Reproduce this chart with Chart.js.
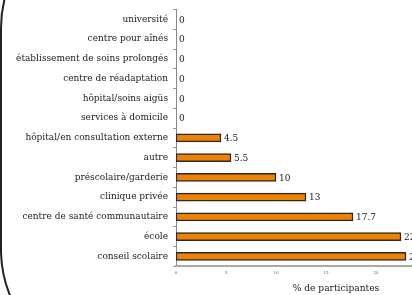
<!DOCTYPE html>
<html>
<head>
<meta charset="utf-8">
<script src="https://cdn.jsdelivr.net/npm/chart.js@4.4.1/dist/chart.umd.min.js"></script>
<style>
  html, body { margin: 0; padding: 0; background: #fff; overflow: hidden; width: 412px; height: 295px; }
  #wrap { position: absolute; left: 0; top: 0; width: 500px; height: 295px; }
  #frame { position: absolute; left: 0; top: -92px; width: 700px; height: 462px; border: 2px solid #222; border-radius: 120px; box-sizing: border-box; pointer-events: none; }
</style>
</head>
<body>
<div id="wrap"><canvas id="c" width="500" height="295"></canvas></div>
<div id="frame"></div>
<script>
const categories = [
  "université",
  "centre pour aînés",
  "établissement de soins prolongés",
  "centre de réadaptation",
  "hôpital/soins aigüs",
  "services à domicile",
  "hôpital/en consultation externe",
  "autre",
  "préscolaire/garderie",
  "clinique privée",
  "centre de santé communautaire",
  "école",
  "conseil scolaire"
];
const percentages = [0, 0, 0, 0, 0, 0, 4.5, 5.5, 10, 13, 17.7, 22.5, 23];
const valueLabels = ["0", "0", "0", "0", "0", "0", "4.5", "5.5", "10", "13", "17.7", "22.5", "23"];
const xAxisTitle = "% de participantes";

const serif = "'DejaVu Serif', 'Liberation Serif', serif";

const valueLabelPlugin = {
  id: 'valueLabels',
  afterDatasetsDraw(chart) {
    const ctx = chart.ctx;
    const meta = chart.getDatasetMeta(0);
    ctx.save();
    ctx.font = "9px " + serif;
    ctx.fillStyle = "#222";
    ctx.textAlign = "left";
    ctx.textBaseline = "middle";
    meta.data.forEach((bar, i) => {
      ctx.fillText(valueLabels[i], bar.x + 3, bar.y + 1);
    });
    ctx.restore();
  }
};

new Chart(document.getElementById('c'), {
  type: 'bar',
  data: {
    labels: categories,
    datasets: [{
      data: percentages,
      backgroundColor: '#EE8204',
      borderColor: '#2a2a2a',
      borderWidth: 1.5,
      borderSkipped: false,
      barThickness: 8
    }]
  },
  options: {
    indexAxis: 'y',
    responsive: false,
    animation: false,
    layout: { padding: { left: 0, right: 0, top: 0, bottom: 0 } },
    plugins: {
      legend: { display: false },
      tooltip: { enabled: false }
    },
    scales: {
      y: {
        offset: true,
        border: { display: true, color: '#888', width: 1 },
        grid: { offset: true, drawOnChartArea: false, drawTicks: true, tickLength: 3, color: '#999' },
        ticks: { color: '#222', font: { family: serif, size: 9, lineHeight: 1 }, padding: 5, autoSkip: false },
        afterFit(scale) { scale.width = 176; }
      },
      x: {
        min: 0,
        max: 32,
        border: { display: true, color: '#aaa', width: 2 },
        grid: { display: false, drawTicks: false },
        ticks: { stepSize: 5, color: '#666', font: { family: serif, size: 4 }, padding: 4,
                 callback: (v) => (v <= 20 ? String(v) : '') },
        title: { display: true, text: xAxisTitle, color: '#222', font: { family: serif, size: 9.1 }, padding: { top: 4, bottom: 1 } }
      }
    }
  },
  plugins: [valueLabelPlugin]
});
</script>
</body>
</html>
